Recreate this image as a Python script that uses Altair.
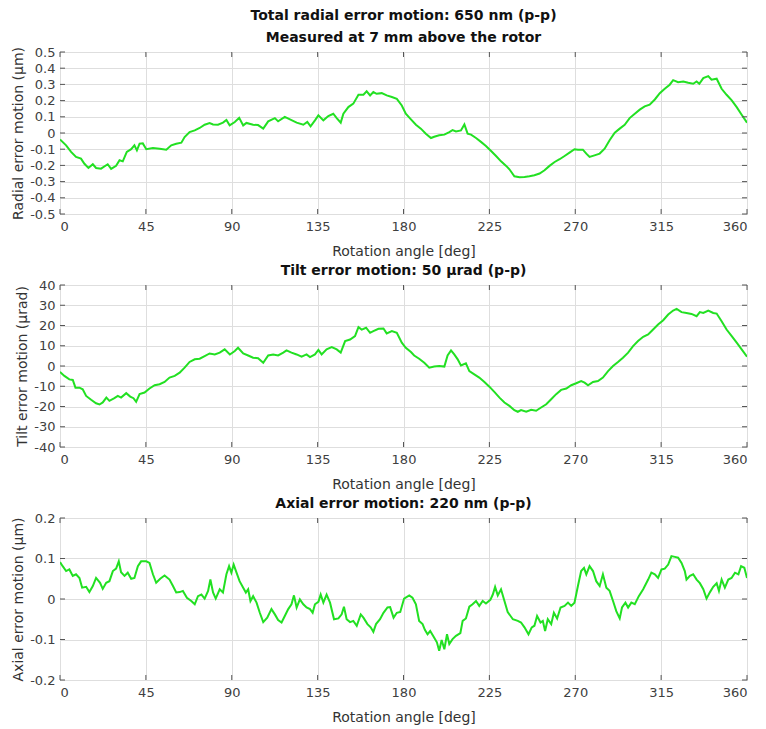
import altair as alt
import pandas as pd

# ---------------- data ----------------
radial_deg = [0, 3.2, 5.8, 8.4, 11, 12.8, 14.9, 17.2, 18.9, 21.5, 25, 26.8, 29.4, 31.2, 32.9, 35, 37.3, 39,
              40.3, 41.7, 43.4, 45.2, 48.7, 52.2, 55.7, 58.3, 60.9, 63.6, 65.3, 67.9, 70.6, 73.2, 75.8, 78.4,
              80.2, 82.8, 85.4, 87.2, 88.9, 91.6, 93.9, 96, 97.7, 101.2, 103.8, 106.5, 109.1, 112.6, 114.3,
              117.8, 120.5, 124, 127.5, 129.6, 131.3, 133.6, 135.4, 138, 140.6, 143.2, 145, 147.1, 148.5,
              151.1, 153.7, 156.4, 159, 160.7, 162.5, 164.2, 165.9, 168.6, 171.2, 173.9, 176.5, 179.1,
              181.2, 183.9, 186.5, 189.1, 191.7, 194.4, 196.1, 198.7, 201.4, 204, 205.7, 207.5, 210.1,
              211.9, 213.6, 215.4, 218, 220.6, 223.2, 225.9, 228.5, 231.1, 233.8, 235.5, 238.1, 240.8,
              243.4, 246, 248.6, 251.3, 253.9, 256.5, 259.2, 261.8, 264.4, 267, 269.6, 271.4, 274, 275.8,
              277.5, 280.1, 282.8, 285.4, 288, 290.7, 293.3, 295.9, 298.5, 301.2, 303.8, 306.4, 309, 311.7,
              314.3, 316.9, 319.5, 321.3, 323.9, 326.6, 329.2, 331.8, 333.6, 335, 337.1, 339.7, 341.4,
              344.1, 346.7, 349.3, 352, 354.6, 357.2, 360]
radial_um = [-0.04, -0.076, -0.117, -0.148, -0.158, -0.19, -0.216, -0.193, -0.216, -0.22, -0.193, -0.222,
             -0.203, -0.168, -0.175, -0.117, -0.1, -0.076, -0.107, -0.066, -0.064, -0.1, -0.092, -0.097,
             -0.103, -0.076, -0.066, -0.06, -0.025, 0.006, 0.016, 0.031, 0.051, 0.062, 0.053, 0.051, 0.064,
             0.08, 0.047, 0.068, 0.094, 0.047, 0.062, 0.051, 0.049, 0.027, 0.072, 0.092, 0.072, 0.099, 0.084,
             0.064, 0.051, 0.068, 0.041, 0.078, 0.109, 0.078, 0.105, 0.119, 0.092, 0.064, 0.119, 0.16, 0.181,
             0.236, 0.236, 0.257, 0.232, 0.253, 0.242, 0.246, 0.232, 0.222, 0.211, 0.17, 0.119, 0.084, 0.051,
             0.027, -0.004, -0.031, -0.023, -0.014, -0.01, 0.006, 0.018, 0.01, 0.016, 0.053, -0.004, -0.01,
             -0.031, -0.055, -0.08, -0.111, -0.142, -0.175, -0.203, -0.224, -0.267, -0.273, -0.271, -0.267,
             -0.261, -0.25, -0.23, -0.203, -0.179, -0.162, -0.142, -0.121, -0.1, -0.103, -0.103, -0.127,
             -0.148, -0.138, -0.127, -0.097, -0.045, 0.002, 0.027, 0.051, 0.092, 0.119, 0.144, 0.164, 0.175,
             0.207, 0.246, 0.273, 0.298, 0.326, 0.314, 0.318, 0.31, 0.304, 0.318, 0.304, 0.339, 0.351, 0.329,
             0.335, 0.273, 0.236, 0.201, 0.16, 0.113, 0.064]

tilt_deg = [0, 2.3, 4.9, 6.7, 8.1, 10.2, 11.9, 13.7, 16.3, 18.9, 20.7, 22.4, 24.3, 25.9, 28.5, 30.3, 32,
            34.7, 36.8, 38.5, 39.9, 41.7, 44.3, 46.9, 49.6, 52.2, 54.8, 57.4, 60.1, 62.7, 65.3, 67.9, 70.6,
            73.2, 75.8, 78.4, 81.1, 83.7, 86.3, 89, 91.6, 93.3, 96, 98.6, 101.2, 103.8, 106.5, 109.1, 111.7,
            114.3, 117, 118.7, 121.3, 124, 126.6, 129.2, 131, 133.6, 135.4, 137.1, 139.7, 142.4, 145, 147.1,
            149.4, 152, 154.6, 156.4, 158.1, 160.4, 162.5, 164.2, 166.9, 169.5, 171.2, 173.9, 176.5, 179.1,
            181.2, 183.9, 185.6, 188.2, 190.9, 193.5, 196.1, 198.7, 201.4, 203.1, 204.9, 206.6, 208.4,
            210.1, 212.7, 214.5, 217.1, 219.7, 222.4, 225, 227.6, 230.3, 232.9, 235.5, 238.1, 239.9, 241.6,
            244.3, 246.9, 249.5, 252.1, 254.8, 257.4, 260, 262.6, 265.3, 267.9, 270.5, 273.1, 274.9, 276.7,
            279.3, 281.9, 284.5, 287.2, 289.8, 292.4, 295, 297.7, 300.3, 302.9, 305.6, 308.2, 310.8, 313.4,
            316.1, 318.7, 321.3, 323.1, 325.7, 328.3, 330.9, 333.6, 335.3, 337.1, 339.7, 342.3, 344.1,
            346.7, 349.3, 352, 354.6, 357.2, 360]
tilt_urad = [-2.9, -4.9, -6.6, -6.9, -10.7, -10.7, -11.5, -14.8, -16.7, -18.4, -19, -18, -15.6, -17.2,
             -15.9, -14.8, -15.6, -13.4, -15.1, -15.9, -17.7, -13.9, -13.1, -11.1, -9.5, -9, -7.9, -5.7,
             -4.9, -3.3, -0.8, 2, 3.3, 3.6, 4.9, 6.2, 5.7, 6.6, 8.2, 5.7, 7.4, 9, 6.2, 5.2, 4.1, 3.8, 1.6,
             5.2, 5.7, 5.2, 6.6, 7.7, 6.6, 5.7, 4.6, 5.7, 4.4, 5.7, 7.9, 5.7, 8.2, 9.3, 8.2, 6.6, 12.3, 13.1,
             14.8, 19.2, 18, 18.9, 16.4, 17.2, 18.4, 18.5, 16.1, 17.2, 16.4, 11.5, 9, 6.9, 5.2, 3.6, 1.6,
             -0.8, -0.3, 0, -0.3, 5.2, 7.7, 5.7, 3.3, 0.3, 1.3, -2.5, -4.1, -5.7, -7.9, -10.2, -12.8, -15.6,
             -18, -19.7, -21.8, -22.6, -21.8, -22.6, -21.6, -22.1, -20.5, -18.9, -16.4, -13.9, -11.8, -11.1,
             -9.5, -8.5, -7.4, -8.2, -9.5, -7.9, -7.4, -5.7, -2.5, 0, 2, 4.1, 6.6, 9.8, 12.3, 14.4, 15.6, 18,
             20.5, 22.6, 25.4, 27.4, 28.2, 26.6, 26.2, 25.7, 24.6, 26.6, 26.2, 27.4, 26.2, 25.9, 22.1, 18,
             14.8, 11.5, 8.2, 4.6]

axial_deg = [0, 1.4, 3.2, 4.9, 6.7, 8.4, 10.2, 11.6, 13.7, 15.4, 17.2, 18.9, 21, 22.4, 24.2, 25.9, 27.7,
             29.4, 30.8, 32, 33.8, 35.5, 37.3, 39, 40.8, 42.5, 45.2, 46.9, 48.7, 50.4, 52.5, 54.8, 57.4, 59.2,
             60.9, 62.7, 64.4, 66.5, 68.8, 70.6, 72.3, 74.1, 75.8, 77.6, 78.8, 80.2, 81.6, 83.7, 85.4, 87.2,
             88.6, 89.8, 91, 92.5, 94.1, 96, 97.4, 98.6, 99.8, 101.2, 103, 104.7, 106.5, 108.6, 110.8, 112.6,
             114.3, 116.1, 117.8, 119.6, 121.3, 122.6, 124, 125.7, 127.5, 129.2, 131, 132.4, 133.6, 135.4,
             136.6, 138, 139.7, 141.5, 143.6, 145.9, 147.6, 148.8, 150.2, 152, 153.7, 155.5, 157.6, 159,
             161.1, 162.8, 164.2, 165.6, 167.7, 169.5, 171.6, 173, 174.8, 176.5, 178.3, 180.3, 183, 184.7,
             186.5, 188.2, 190, 191.2, 192.6, 194, 195.8, 197.5, 198.7, 200, 201.4, 202.8, 204, 205.7, 207.5,
             209.8, 211, 212.7, 214.5, 216.2, 218, 219.7, 221.5, 223.2, 225.5, 226.8, 228, 229.4, 231.1,
             232.9, 234.6, 237.3, 239.9, 241.6, 243.4, 245.5, 247.2, 248.6, 250, 251.8, 253, 254.2, 255.6,
             257.4, 258.8, 260.5, 262.3, 264.4, 266.2, 267.9, 269.6, 271.4, 273.1, 274.6, 275.8, 277.5,
             279.3, 281, 282.8, 284.5, 286.3, 288, 289.8, 291.5, 293.3, 294.5, 296.3, 297.7, 299.4, 301.2,
             303.3, 305.6, 308.2, 309.9, 311.7, 313.4, 315.2, 316.9, 318.7, 320.4, 322.2, 323.9, 325.7,
             327.4, 328.3, 330.1, 331.8, 333.6, 335.3, 337.1, 338.8, 340.6, 342.3, 344.1, 345.3, 346.7,
             348.4, 350.2, 351.9, 353.7, 355.5, 356.9, 358.6, 360]
axial_um = [0.091, 0.081, 0.069, 0.073, 0.057, 0.061, 0.052, 0.028, 0.03, 0.017, 0.032, 0.052, 0.04, 0.025,
            0.04, 0.044, 0.069, 0.075, 0.093, 0.066, 0.057, 0.065, 0.05, 0.052, 0.081, 0.093, 0.093, 0.089,
            0.061, 0.04, 0.05, 0.058, 0.048, 0.032, 0.016, 0.017, 0.02, 0.003, -0.005, -0.013, 0.007, 0.011,
            0.001, 0.02, 0.048, 0.016, 0.001, 0.024, 0.016, 0.061, 0.081, 0.065, 0.085, 0.065, 0.044, 0.028,
            0.016, 0.024, -0.005, 0.007, -0.009, -0.034, -0.057, -0.046, -0.025, -0.038, -0.052, -0.058,
            -0.042, -0.025, -0.013, 0.009, -0.021, -0.001, -0.013, -0.021, -0.025, -0.034, -0.013, -0.007,
            0.011, -0.009, 0.011, -0.009, -0.05, -0.048, -0.038, -0.019, -0.05, -0.057, -0.054, -0.066,
            -0.038, -0.046, -0.062, -0.07, -0.081, -0.062, -0.05, -0.034, -0.021, -0.02, -0.046, -0.034,
            -0.032, 0.001, 0.009, 0.003, -0.013, -0.054, -0.062, -0.076, -0.087, -0.079, -0.093, -0.107,
            -0.128, -0.101, -0.124, -0.087, -0.111, -0.099, -0.091, -0.084, -0.054, -0.048, -0.019, -0.013,
            -0.005, -0.017, -0.005, -0.011, -0.002, 0.011, 0.03, 0.009, 0.024, -0.005, -0.032, -0.05, -0.054,
            -0.058, -0.07, -0.087, -0.07, -0.066, -0.042, -0.058, -0.054, -0.079, -0.05, -0.062, -0.034,
            -0.048, -0.021, -0.017, -0.009, -0.017, -0.009, 0.032, 0.069, 0.077, 0.061, 0.081, 0.069, 0.044,
            0.032, 0.061, 0.028, 0.02, -0.005, -0.03, -0.048, -0.021, -0.009, -0.021, -0.009, -0.013, 0.007,
            0.024, 0.048, 0.065, 0.061, 0.052, 0.073, 0.075, 0.085, 0.106, 0.104, 0.102, 0.089, 0.069, 0.048,
            0.057, 0.061, 0.048, 0.039, 0.024, 0.001, 0.017, 0.03, 0.039, 0.02, 0.048, 0.028, 0.048, 0.052,
            0.065, 0.061, 0.081, 0.077, 0.052]

angle_ticks = [0, 45, 90, 135, 180, 225, 270, 315, 360]
radial_ticks = [-0.5, -0.4, -0.3, -0.2, -0.1, 0, 0.1, 0.2, 0.3, 0.4, 0.5]
tilt_ticks = [-40, -30, -20, -10, 0, 10, 20, 30, 40]
axial_ticks = [-0.2, -0.1, 0, 0.1, 0.2]

W, H = 687, 162
LINE = "#22e022"
TICKC = "#555555"
FONT = "DejaVu Sans"
LABEL_EXPR = "replace(replace(format(datum.value, '~g'), '\u2212', '-'), '\u2013', '-')"

AX_STYLE = dict(domain=False, ticks=False, tickSize=0, grid=True, gridColor="#dedede", gridWidth=1,
                labelFont=FONT, labelFontSize=13, labelColor="#404040",
                titleFont=FONT, titleFontSize=14, titleFontWeight="normal", titleColor="#333333")


def panel(deg, val, yticks, ytitle, title):
    df = pd.DataFrame({"angle": deg, "value": val})
    xt = pd.DataFrame({"angle": angle_ticks})
    yt = pd.DataFrame({"value": yticks})
    xscale = alt.Scale(domain=[0, 360], nice=False, zero=False)
    yscale = alt.Scale(domain=[yticks[0], yticks[-1]], nice=False, zero=False)
    xaxis = alt.Axis(values=angle_ticks, title="Rotation angle [deg]", labelPadding=6, titlePadding=11,
                     **AX_STYLE)
    yaxis = alt.Axis(values=yticks, title=ytitle, labelExpr=LABEL_EXPR, labelPadding=5, titlePadding=4,
                     **AX_STYLE)
    X = alt.X("angle:Q", scale=xscale, axis=xaxis)
    Y = alt.Y("value:Q", scale=yscale, axis=yaxis)

    line = alt.Chart(df).mark_line(color=LINE, strokeWidth=2, clip=True).encode(x=X, y=Y)
    xb = alt.Chart(xt).mark_rule(color=TICKC, strokeWidth=1).encode(
        x=X, y=alt.value(H), y2=alt.value(H - 5))
    xtp = alt.Chart(xt).mark_rule(color=TICKC, strokeWidth=1).encode(
        x=X, y=alt.value(0), y2=alt.value(5))
    yl = alt.Chart(yt).mark_rule(color=TICKC, strokeWidth=1).encode(
        y=Y, x=alt.value(0), x2=alt.value(5))
    yr = alt.Chart(yt).mark_rule(color=TICKC, strokeWidth=1).encode(
        y=Y, x=alt.value(W), x2=alt.value(W - 5))

    return alt.layer(line, xb, xtp, yl, yr).properties(
        width=W, height=H,
        title=alt.TitleParams(text=title, font=FONT, fontSize=14, fontWeight="bold",
                              color="#111111", anchor="middle", frame="group",
                              offset=1, lineHeight=22),
    )


p1 = panel(radial_deg, radial_um, radial_ticks, "Radial error motion (\u03bcm)",
           ["Total radial error motion: 650 nm (p-p)", "Measured at 7 mm above the rotor"])
p2 = panel(tilt_deg, tilt_urad, tilt_ticks, "Tilt error motion (\u03bcrad)",
           "Tilt error motion: 50 \u03bcrad (p-p)")
p3 = panel(axial_deg, axial_um, axial_ticks, "Axial error motion (\u03bcm)",
           "Axial error motion: 220 nm (p-p)")

chart = alt.vconcat(p1, p2, p3, spacing=4).properties(
    padding={"left": 3, "top": 0, "right": 3, "bottom": 0},
    background="white",
).configure_view(
    stroke="#7a7a7a", strokeWidth=1
)

chart.save("out.html", embed_options={"renderer": "svg", "actions": False})
